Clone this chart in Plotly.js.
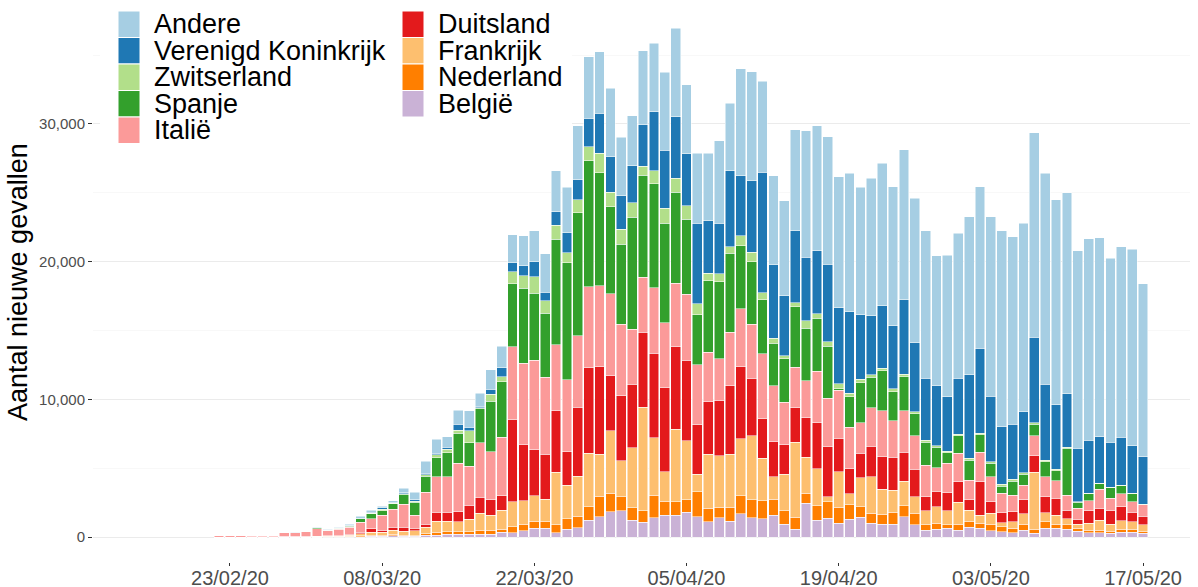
<!DOCTYPE html>
<html>
<head>
<meta charset="utf-8">
<script src="https://cdn.plot.ly/plotly-3.0.1.min.js"></script>
<style>html,body{margin:0;padding:0;background:#fff;}#chart{width:1198px;height:587px;}</style>
</head>
<body>
<div id="chart"></div>
<script>
// ---- data (daily new cases) ----
const dates = [
'2020-02-22','2020-02-23','2020-02-24','2020-02-25','2020-02-26','2020-02-27','2020-02-28','2020-02-29',
'2020-03-01','2020-03-02','2020-03-03','2020-03-04','2020-03-05','2020-03-06','2020-03-07','2020-03-08','2020-03-09','2020-03-10',
'2020-03-11','2020-03-12','2020-03-13','2020-03-14','2020-03-15','2020-03-16','2020-03-17','2020-03-18','2020-03-19','2020-03-20',
'2020-03-21','2020-03-22','2020-03-23','2020-03-24','2020-03-25','2020-03-26','2020-03-27','2020-03-28','2020-03-29','2020-03-30','2020-03-31',
'2020-04-01','2020-04-02','2020-04-03','2020-04-04','2020-04-05','2020-04-06','2020-04-07','2020-04-08','2020-04-09','2020-04-10',
'2020-04-11','2020-04-12','2020-04-13','2020-04-14','2020-04-15','2020-04-16','2020-04-17','2020-04-18','2020-04-19','2020-04-20',
'2020-04-21','2020-04-22','2020-04-23','2020-04-24','2020-04-25','2020-04-26','2020-04-27','2020-04-28','2020-04-29','2020-04-30',
'2020-05-01','2020-05-02','2020-05-03','2020-05-04','2020-05-05','2020-05-06','2020-05-07','2020-05-08','2020-05-09','2020-05-10',
'2020-05-11','2020-05-12','2020-05-13','2020-05-14','2020-05-15','2020-05-16','2020-05-17'];

const andere = [0,0,0,0,2,5,8,9,
6,20,40,40,70,121,169,145,145,319,
559,892,1017,770,1039,1208,923,1402,1576,2011,
2181,2227,2782,2980,3295,3923,4454,4454,4965,4245,3632,
5397,4964,5645,6420,5011,5085,4896,5978,4890,7753,
7917,6607,6465,6879,7314,9175,9080,9269,9516,10050,
9274,9976,10365,10097,10896,10489,10701,9464,10293,10531,
11499,11739,13025,14240,13608,13683,14864,15326,14891,14612,
14354,14601,14458,13366,13848,14266,12545];

const verenigdKoninkrijk = [0,0,0,0,0,0,0,3,
5,10,10,15,30,49,72,95,44,73,
73,102,123,146,414,247,123,363,654,654,
723,1090,632,968,1453,1452,2058,2906,2590,2440,2666,
3010,4286,4235,4480,3756,5862,3821,3683,5521,4358,
5202,8742,5325,4380,5230,4603,4601,5619,5497,5930,
4672,4310,4526,4598,5398,5012,4481,4337,3944,4067,
6051,6174,4772,4184,4017,4431,6203,5499,4671,3872,
3879,3872,3385,3269,3465,3458,3436];

const zwitserland = [0,0,0,0,1,1,5,5,
10,10,15,20,30,20,49,102,20,43,
73,95,196,246,239,871,50,487,363,894,
921,1211,894,1040,726,922,1017,1410,1045,1090,1059,
654,968,1090,1017,967,799,534,559,484,751,
683,535,363,218,291,557,315,316,363,247,
243,168,174,196,174,167,170,116,123,123,
124,123,116,123,123,116,95,123,102,73,
50,50,50,50,50,50,72];

const spanje = [0,0,0,3,3,5,10,15,
15,50,40,60,70,222,363,334,394,727,
944,1184,1380,1744,2180,1692,2492,3683,4039,4554,
5447,4843,4649,7675,8521,8957,9178,8227,6341,5790,8137,
7381,7533,7217,6608,5469,3632,5204,5615,5737,4576,
4526,3923,3080,3145,4402,3825,3826,3799,100,2222,
2908,2208,2906,2107,2491,1598,1646,1482,770,1257,
1453,1257,974,531,1017,778,871,1090,726,3392,
429,487,386,749,603,560,0];

const italie = [73,97,73,110,100,95,300,267,
330,560,350,466,530,726,703,1068,1329,1670,
966,2303,2587,2565,3515,2833,3966,3508,4242,5325,
5934,6537,5571,4794,5209,5180,5858,5862,5957,5208,3997,
4024,4765,4724,4602,4773,4358,3589,3029,3878,4191,
3945,4721,4068,3102,2935,2666,3756,3515,3508,3029,
2223,2782,3341,2659,3000,2419,2303,1693,2136,2063,
1452,2136,1816,1409,1213,1089,1453,1453,1279,1090,
799,727,1380,922,923,770,800];

const duitsland = [0,0,0,3,10,5,20,10,
40,15,30,35,60,121,242,145,197,269,
172,239,632,676,727,1017,1162,1090,1039,5935,
4046,3320,3290,4453,2419,4990,6222,6364,3973,4722,4603,
5448,6130,6101,6002,5883,3581,3821,3995,4961,5252,
4167,2855,2542,2128,2514,2877,3362,3633,2426,1816,
1773,2230,2368,2375,2085,1991,1038,1140,1308,1497,
727,2419,842,726,727,1017,1184,1162,1213,653,
342,915,850,945,1017,683,653];

const frankrijk = [0,0,0,5,5,10,20,30,
30,30,50,40,90,169,218,240,312,291,
363,465,821,755,726,922,1214,1090,1380,1816,
1693,1838,1577,3828,2469,2906,3879,3029,4549,2615,4359,
7524,4163,2129,5259,4286,1264,3922,3749,3872,4119,
4672,3080,1620,2645,5447,2615,2666,363,2587,799,
2106,2658,1816,1620,1794,1205,1017,1206,1038,1597,
799,603,778,290,481,727,4141,654,654,436,
314,487,727,508,603,552,436];

const nederland = [0,0,0,0,0,0,0,0,
0,7,10,15,20,48,97,75,123,97,
60,130,196,189,189,189,290,290,240,436,
486,530,530,560,749,849,966,1503,1335,1038,893,
821,1649,1017,966,894,1816,974,755,995,1329,
1286,1329,1162,966,872,726,1039,1206,1162,1039,
770,727,705,871,799,850,364,436,242,415,
436,365,484,350,315,436,293,481,314,313,
194,193,193,170,242,220,170];

const belgie = [0,0,0,0,0,0,0,0,
0,0,12,11,20,25,48,48,73,48,
37,110,145,196,196,196,218,218,341,312,
458,632,632,312,559,676,1235,1475,1838,1889,1235,
1068,1402,1598,1598,1794,1475,1111,1402,1162,1671,
1402,1308,1598,944,559,2448,1235,1358,995,1286,
1431,995,944,923,1475,872,508,559,630,508,
726,630,460,387,315,508,266,630,630,559,
436,315,315,266,339,339,266];

// series in stacking order (bottom -> top)
const seriesNames = ['België','Nederland','Frankrijk','Duitsland','Italië','Spanje','Zwitserland','Verenigd Koninkrijk','Andere'];
const seriesValues = [belgie, nederland, frankrijk, duitsland, italie, spanje, zwitserland, verenigdKoninkrijk, andere];
const seriesColors = ['#CAB2D6','#FF7F00','#FDBF6F','#E31A1C','#FB9A99','#33A02C','#B2DF8A','#1F78B4','#A6CEE3'];
const legendColumns = [
  ['Andere','Verenigd Koninkrijk','Zwitserland','Spanje','Italië'],
  ['Duitsland','Frankrijk','Nederland','België']
];
const tickDates = ['2020-02-23','2020-03-08','2020-03-22','2020-04-05','2020-04-19','2020-05-03','2020-05-17'];

// ---- traces ----
const traces = seriesNames.map((name, i) => ({
  type: 'bar',
  name: name,
  x: dates,
  y: seriesValues[i],
  marker: {color: seriesColors[i], line: {color: 'rgba(255,255,255,0.85)', width: 0.6}},
  showlegend: false,
  hoverinfo: 'x+y+name'
}));

// ---- layout helpers (plot area: x 93..1190 px, y 2..562 px) ----
const L = 93, R = 1190, T = 2, B = 562;
const px = x => (x - L) / (R - L);
const py = y => (B - y) / (B - T);

const shapes = [];
const annotations = [];
// legend background
shapes.push({type:'rect', xref:'paper', yref:'paper', x0: px(100), x1: px(572), y0: py(148), y1: py(4),
  fillcolor:'#ffffff', line:{width:0}, layer:'above'});
const colX = [[118, 152], [402, 436]];
const rowTop = 11, rowH = 26.5;
legendColumns.forEach((col, c) => {
  col.forEach((name, r) => {
    const idx = seriesNames.indexOf(name);
    const top = rowTop + rowH * r;
    shapes.push({type:'rect', xref:'paper', yref:'paper',
      x0: px(colX[c][0]), x1: px(colX[c][0] + 22), y0: py(top + rowH), y1: py(top),
      fillcolor: seriesColors[idx], line:{color:'#ffffff', width:1}, layer:'above'});
    annotations.push({xref:'paper', yref:'paper', x: px(colX[c][1]), y: py(top + rowH / 2),
      xanchor:'left', yanchor:'middle', showarrow:false, text: name,
      font:{family:'Liberation Sans, Arial, sans-serif', size:27, color:'#000000'}});
  });
});
// y axis title
annotations.push({xref:'paper', yref:'paper', x: px(18), y: 0.5, xanchor:'center', yanchor:'middle',
  showarrow:false, textangle:-90, text:'Aantal nieuwe gevallen',
  font:{family:'Liberation Sans, Arial, sans-serif', size:27, color:'#000000'}});

const layout = {
  width: 1198, height: 587,
  margin: {l: L, r: 1198 - R, t: T, b: 587 - B, pad: 0},
  paper_bgcolor: '#ffffff', plot_bgcolor: '#ffffff',
  barmode: 'stack', bargap: 0.1,
  font: {family: 'Liberation Sans, Arial, sans-serif'},
  xaxis: {
    type: 'date',
    range: ['2020-02-10 09:36', '2020-05-21 07:40'],
    tickmode: 'array', tickvals: tickDates, tickformat: '%d/%m/%y',
    ticks: 'outside', ticklen: 3, tickcolor: '#333333', tickwidth: 1,
    ticklabelstandoff: -5,
    tickfont: {size: 20, color: '#4D4D4D'},
    showgrid: false, zeroline: false, showline: false
  },
  yaxis: {
    range: [-1816, 38861],
    tickmode: 'linear', tick0: 0, dtick: 10000, tickformat: ',d',
    ticks: 'outside', ticklen: 4, tickcolor: '#333333', tickwidth: 1,
    tickfont: {size: 15, color: '#4D4D4D'},
    showgrid: true, gridcolor: '#EBEBEB', gridwidth: 1,
    minor: {dtick: 5000, showgrid: true, gridcolor: '#F3F3F3', gridwidth: 0.6, ticks: ''},
    zeroline: false, showline: false
  },
  shapes: shapes,
  annotations: annotations
};

Plotly.newPlot('chart', traces, layout, {staticPlot: true, displayModeBar: false});
</script>
</body>
</html>
